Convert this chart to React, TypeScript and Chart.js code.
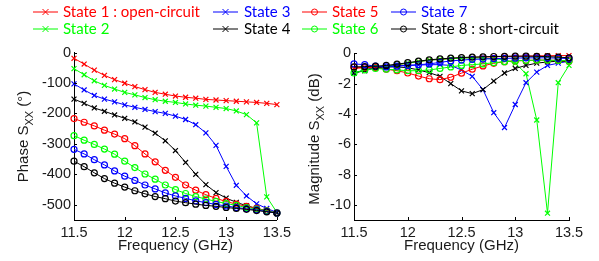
import { useEffect, useRef } from 'react';
import { Chart, registerables } from 'chart.js';

Chart.register(...registerables);

const FREQ = [11.5, 11.6, 11.7, 11.8, 11.9, 12.0, 12.1, 12.2, 12.3, 12.4, 12.5, 12.6, 12.7, 12.8, 12.9, 13.0, 13.1, 13.2, 13.3, 13.4, 13.5];
const X_TICKS = [11.5, 12, 12.5, 13, 13.5];
const PHASE_TICKS = [0, -100, -200, -300, -400, -500];
const MAG_TICKS = [0, -2, -4, -6, -8, -10];

const STATE_NAMES = ['State 1 : open-circuit', 'State 2', 'State 3', 'State 4', 'State 5', 'State 6', 'State 7', 'State 8 : short-circuit'];
const STATE_COLORS = ['#ff0000', '#00ff00', '#0000ff', '#000000', '#ff0000', '#00ff00', '#0000ff', '#000000'];

const phase1 = [-19, -38, -58, -75, -89, -101, -112, -122, -131, -137, -143, -147, -150, -154, -156, -158, -160, -162, -164, -167, -171];
const phase2 = [-53, -73, -93, -108, -120, -131, -139, -148, -155, -160, -164, -169, -173, -176, -180, -184, -192, -204, -231, -474, -525];
const phase3 = [-103, -123, -141, -153, -162, -172, -180, -187, -194, -200, -209, -220, -237, -264, -305, -374, -436, -471, -497, -512, -525];
const phase4 = [-153, -167, -182, -193, -205, -216, -228, -245, -265, -290, -322, -361, -400, -434, -460, -478, -492, -503, -512, -520, -527];
const phase5 = [-217, -229, -241, -255, -268, -283, -306, -333, -359, -387, -410, -435, -452, -467, -479, -489, -498, -505, -512, -519, -527];
const phase6 = [-273, -288, -302, -317, -334, -357, -378, -399, -416, -435, -450, -463, -473, -481, -489, -496, -502, -509, -514, -520, -527];
const phase7 = [-318, -333, -352, -369, -389, -406, -420, -435, -448, -461, -471, -479, -487, -493, -499, -504, -509, -513, -517, -522, -527];
const phase8 = [-357, -375, -395, -414, -429, -442, -454, -464, -473, -480, -488, -493, -498, -502, -505, -509, -512, -515, -519, -523, -527];

const mag1 = [-1.0, -0.95, -0.9, -0.85, -0.75, -0.65, -0.55, -0.45, -0.4, -0.35, -0.3, -0.28, -0.25, -0.23, -0.2, -0.2, -0.18, -0.17, -0.16, -0.15, -0.15];
const mag2 = [-1.3, -1.1, -0.95, -0.85, -0.75, -0.65, -0.55, -0.45, -0.4, -0.35, -0.32, -0.3, -0.32, -0.38, -0.42, -0.65, -1.35, -4.4, -10.55, -1.94, -0.8];
const mag3 = [-1.3, -1.1, -0.9, -0.85, -0.82, -0.8, -0.78, -0.75, -0.75, -0.8, -1.1, -1.52, -2.4, -3.92, -4.9, -3.38, -1.94, -1.24, -0.8, -0.65, -0.52];
const mag4 = [-1.3, -1.15, -0.95, -0.9, -0.9, -0.95, -1.1, -1.28, -1.52, -2.0, -2.48, -2.66, -2.4, -1.83, -1.3, -1.0, -0.8, -0.65, -0.57, -0.52, -0.55];
const mag5 = [-0.92, -0.95, -0.95, -1.05, -1.15, -1.3, -1.5, -1.68, -1.74, -1.58, -1.31, -1.05, -0.83, -0.66, -0.55, -0.5, -0.47, -0.45, -0.45, -0.47, -0.5];
const mag6 = [-1.3, -1.1, -1.0, -1.05, -1.1, -1.15, -1.15, -1.1, -1.0, -0.9, -0.8, -0.75, -0.7, -0.62, -0.55, -0.5, -0.47, -0.45, -0.45, -0.47, -0.5];
const mag7 = [-0.7, -0.75, -0.85, -0.9, -0.85, -0.8, -0.75, -0.7, -0.6, -0.5, -0.45, -0.4, -0.38, -0.35, -0.33, -0.32, -0.3, -0.3, -0.3, -0.32, -0.35];
const mag8 = [-0.9, -0.88, -0.85, -0.8, -0.72, -0.62, -0.52, -0.43, -0.37, -0.32, -0.28, -0.25, -0.23, -0.21, -0.2, -0.19, -0.19, -0.2, -0.22, -0.25, -0.3];

const PHASE_SERIES = [phase1, phase2, phase3, phase4, phase5, phase6, phase7, phase8];
const MAG_SERIES = [mag1, mag2, mag3, mag4, mag5, mag6, mag7, mag8];

const AX_FONT = '"Liberation Sans", Arial, Helvetica, sans-serif';
const TEXT_COLOR = '#1a1a1a';

function makeDatasets(series: number[][]) {
  return series.map((vals, i) => ({
    label: STATE_NAMES[i],
    data: FREQ.map((f, j) => ({ x: f, y: vals[j] })),
    borderColor: STATE_COLORS[i],
    backgroundColor: 'rgba(0,0,0,0)',
    pointStyle: i < 4 ? 'crossRot' : 'circle',
    pointRadius: i < 4 ? 3.5 : 3,
    pointBorderColor: STATE_COLORS[i],
    pointBackgroundColor: 'rgba(0,0,0,0)',
    pointBorderWidth: 1.2,
    borderWidth: 1,
    tension: 0,
    fill: false,
    clip: false as any,
    order: 7 - i,
  }));
}

type Cfg = {
  series: number[][];
  yMin: number;
  yTicks: number[];
  yTitleMain: string;
  yTitleTail: string;
  yTitleX: number;
  yTitleCenterY: number;
  yWidth: number;
  padTop: number;
  padRight: number;
  width: number;
};

function makeDecor(cfg: Cfg) {
  return {
    id: 'decor',
    afterDraw(chart: any) {
      const { ctx, chartArea: a, scales } = chart;
      ctx.save();
      ctx.strokeStyle = '#000';
      ctx.lineWidth = 1;
      X_TICKS.forEach((v) => {
        const px = Math.round(scales.x.getPixelForValue(v)) + 0.5;
        ctx.beginPath();
        ctx.moveTo(px, a.bottom);
        ctx.lineTo(px, a.bottom - 3);
        ctx.stroke();
      });
      cfg.yTicks.forEach((v) => {
        const py = Math.round(scales.y.getPixelForValue(v)) + 0.5;
        ctx.beginPath();
        ctx.moveTo(a.left, py);
        ctx.lineTo(a.left + 3, py);
        ctx.stroke();
      });
      ctx.fillStyle = TEXT_COLOR;
      ctx.font = `15px ${AX_FONT}`;
      ctx.textAlign = 'center';
      ctx.textBaseline = 'alphabetic';
      ctx.fillText('Frequency (GHz)', (a.left + a.right) / 2, 250);

      // y title with subscript
      const mainFont = `15px ${AX_FONT}`;
      const subFont = `11px ${AX_FONT}`;
      ctx.font = mainFont;
      const w1 = ctx.measureText(cfg.yTitleMain).width;
      const w3 = ctx.measureText(cfg.yTitleTail).width;
      ctx.font = subFont;
      const w2 = ctx.measureText('XX').width;
      const total = w1 + w2 + w3;
      ctx.translate(cfg.yTitleX, cfg.yTitleCenterY);
      ctx.rotate(-Math.PI / 2);
      ctx.textAlign = 'left';
      let u = -total / 2;
      ctx.font = mainFont;
      ctx.fillText(cfg.yTitleMain, u, 5.5);
      u += w1;
      ctx.font = subFont;
      ctx.fillText('XX', u, 10);
      u += w2;
      ctx.font = mainFont;
      ctx.fillText(cfg.yTitleTail, u, 5.5);
      ctx.restore();
    },
  };
}

const fmtTick = (v: any) => String(Number(v));

function ChartBox({ cfg, left }: { cfg: Cfg; left: number }) {
  const ref = useRef<HTMLCanvasElement | null>(null);
  useEffect(() => {
    if (!ref.current) return;
    const chart = new Chart(ref.current, {
      type: 'line',
      data: { datasets: makeDatasets(cfg.series) as any },
      options: {
        responsive: false,
        animation: false,
        events: [],
        layout: { padding: { top: cfg.padTop, right: cfg.padRight, left: 0, bottom: 0 } },
        plugins: { legend: { display: false }, tooltip: { enabled: false } },
        scales: {
          x: {
            type: 'linear',
            min: 11.5,
            max: 13.5,
            afterBuildTicks: (s: any) => {
              s.ticks = X_TICKS.map((v) => ({ value: v }));
            },
            afterFit: (s: any) => {
              s.height = 41;
            },
            grid: { display: true, drawOnChartArea: false, drawTicks: false },
            border: { display: true, color: '#000', width: 1 },
            ticks: { callback: fmtTick, font: { family: AX_FONT, size: 14.5 }, color: TEXT_COLOR, padding: 4, maxRotation: 0, autoSkip: false },
          },
          y: {
            type: 'linear',
            min: cfg.yMin,
            max: 0,
            afterBuildTicks: (s: any) => {
              s.ticks = cfg.yTicks.map((v) => ({ value: v }));
            },
            afterFit: (s: any) => {
              s.width = cfg.yWidth;
            },
            grid: { display: true, drawOnChartArea: false, drawTicks: false },
            border: { display: true, color: '#000', width: 1 },
            ticks: { callback: fmtTick, font: { family: AX_FONT, size: 14.5 }, color: TEXT_COLOR, padding: 3, autoSkip: false },
          },
        },
      },
      plugins: [makeDecor(cfg)],
    });
    return () => chart.destroy();
  }, []);
  return (
    <canvas
      ref={ref}
      width={cfg.width}
      height={261}
      style={{ position: 'absolute', left, top: 0, width: cfg.width, height: 261 }}
    />
  );
}

function Glyph({ color, marker, left, top }: { color: string; marker: string; left: number; top: number }) {
  return (
    <svg width={25} height={10} style={{ position: 'absolute', left, top }}>
      <line x1={0} y1={5} x2={25} y2={5} stroke={color} strokeWidth={1} />
      {marker === 'x' ? (
        <path d="M9.5 2 L15.5 8 M15.5 2 L9.5 8" stroke={color} strokeWidth={1} fill="none" />
      ) : (
        <circle cx={12.5} cy={5} r={3} stroke={color} strokeWidth={1} fill="none" />
      )}
    </svg>
  );
}

const LEGEND_COLS = [
  { line: 33, text: 63, items: [0, 1] },
  { line: 213, text: 244, items: [2, 3] },
  { line: 302, text: 332, items: [4, 5] },
  { line: 391, text: 421, items: [6, 7] },
];
const LEGEND_ROWS = [12.3, 29];

const leftCfg: Cfg = {
  series: PHASE_SERIES,
  yMin: -550,
  yTicks: PHASE_TICKS,
  yTitleMain: 'Phase S',
  yTitleTail: ' (°)',
  yTitleX: 22.5,
  yTitleCenterY: 136.5,
  yWidth: 74,
  padTop: 52.5,
  padRight: 15,
  width: 295,
};

const rightCfg: Cfg = {
  series: MAG_SERIES,
  yMin: -11,
  yTicks: MAG_TICKS,
  yTitleMain: 'Magnitude S',
  yTitleTail: ' (dB)',
  yTitleX: 313.5 - 295,
  yTitleCenterY: 139,
  yWidth: 59,
  padTop: 53.3,
  padRight: 30,
  width: 304,
};

export default function App() {
  return (
    <div style={{ position: 'fixed', left: 0, top: 0, width: 599, height: 261, background: '#fff', overflow: 'hidden' }}>
      <ChartBox cfg={leftCfg} left={0} />
      <ChartBox cfg={rightCfg} left={295} />
      {LEGEND_COLS.map((col, ci) =>
        col.items.map((idx, ri) => (
          <div key={`${ci}-${ri}`}>
            <Glyph color={STATE_COLORS[idx]} marker={idx < 4 ? 'x' : 'o'} left={col.line} top={LEGEND_ROWS[ri] - 5} />
            <span
              style={{
                position: 'absolute',
                left: col.text,
                top: LEGEND_ROWS[ri] - 7.9,
                font: '15px Lato, "Open Sans", sans-serif',
                lineHeight: '15px',
                color: STATE_COLORS[idx],
                whiteSpace: 'nowrap',
              }}
            >
              {STATE_NAMES[idx]}
            </span>
          </div>
        ))
      )}
    </div>
  );
}
